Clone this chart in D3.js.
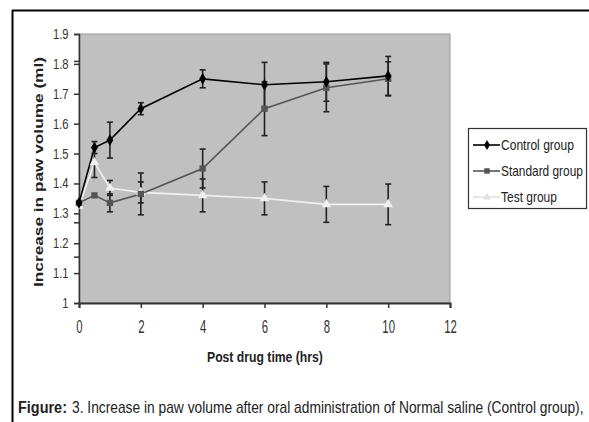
<!DOCTYPE html>
<html><head><meta charset="utf-8">
<script src="https://cdn.jsdelivr.net/npm/d3@7"></script>
<style>
html,body{margin:0;padding:0;background:#fff;}
svg{display:block;}
text{font-family:"Liberation Sans",Arial,sans-serif;}
</style></head>
<body>
<svg id="chart" width="589" height="422"></svg>
<script>
const times = [0, 0.5, 1, 2, 4, 6, 8, 10];
const control = [1.335, 1.52, 1.545, 1.65, 1.75, 1.73, 1.74, 1.76];
const controlErr = [0, 0.02, 0.06, 0.02, 0.03, 0.075, 0.065, 0.065];
const standard = [1.335, 1.36, 1.335, 1.365, 1.45, 1.65, 1.72, 1.75];
const standardErr = [0, 0, 0.03, 0.07, 0.065, 0.09, 0.08, 0.057];
const testGrp = [1.325, 1.47, 1.385, 1.37, 1.36, 1.35, 1.33, 1.33];
const testErr = [0, 0.05, 0.025, 0.035, 0.055, 0.055, 0.06, 0.068];
const seriesNames = ["Control group", "Standard group", "Test group"];
const xTicks = [0, 2, 4, 6, 8, 10, 12];
const yTicks = [1, 1.1, 1.2, 1.3, 1.4, 1.5, 1.6, 1.7, 1.8, 1.9];
const yExtraTicks = [1.81, 1.27, 1.155];
const xLabel = "Post drug time (hrs)";
const yLabel = "Increase in paw volume (ml)";
const captionBold = "Figure:";
const captionRest = "3. Increase in paw volume after oral administration of Normal saline (Control group),";

const svg = d3.select("#chart");
const L = 79, R = 450, T = 34, B = 303;
const x = d3.scaleLinear().domain([0, 12]).range([L, R]);
const y = d3.scaleLinear().domain([1, 1.9]).range([B, T]);
const SXY = 0.8, SXX = 0.65;

// condensed text: horizontally scaled to a target width
function fitText(parent, str, px, py, width, size, bold) {
  const t = parent.append("text").attr("font-size", size).attr("fill", "#222")
    .attr("font-weight", bold ? "bold" : "normal").text(str);
  const natural = t.node().getComputedTextLength();
  t.attr("transform", `translate(${px},${py}) scale(${width / natural},1)`);
  return t;
}

// frame
svg.append("line").attr("x1", 12).attr("x2", 589).attr("y1", 10.5).attr("y2", 10.5).attr("stroke", "#000").attr("stroke-width", 2);
svg.append("line").attr("x1", 12.5).attr("x2", 12.5).attr("y1", 10).attr("y2", 422).attr("stroke", "#000").attr("stroke-width", 2);

// plot area
svg.append("rect").attr("x", L).attr("y", T).attr("width", R - L).attr("height", B - T)
  .attr("fill", "#c0c0c0").attr("stroke", "#9a9a9a").attr("stroke-width", 1);

// axes
const gy = svg.append("g").attr("transform", `translate(${L},0)`)
  .call(d3.axisLeft(y).tickValues(yTicks).tickSize(5).tickFormat(d => d3.format("")(d)));
gy.select(".domain").attr("stroke", "#333").attr("stroke-width", 1.5);
gy.selectAll(".tick line").attr("stroke", "#333").attr("stroke-width", 1.5);
gy.selectAll("text").attr("font-size", 14).attr("fill", "#333")
  .attr("x", -10.5 / SXY).attr("transform", `scale(${SXY},1)`);
const gy2 = svg.append("g").attr("transform", `translate(${L},0)`)
  .call(d3.axisLeft(y).tickValues(yExtraTicks).tickSize(5).tickFormat(""));
gy2.select(".domain").remove();
gy2.selectAll(".tick line").attr("stroke", "#333").attr("stroke-width", 1.5);

const gx = svg.append("g").attr("transform", `translate(0,${B})`)
  .call(d3.axisBottom(x).tickValues(xTicks).tickSize(5).tickPadding(12.6));
gx.select(".domain").attr("stroke", "#333").attr("stroke-width", 2);
gx.selectAll(".tick line").attr("stroke", "#333").attr("stroke-width", 1.5);
gx.selectAll("text").attr("font-size", 17.5).attr("fill", "#333").attr("transform", `scale(${SXX},1)`);

// labels
fitText(svg, xLabel, 207, 362, 116, 14, true);
svg.append("text").attr("transform", "translate(43,287) rotate(-90)")
  .attr("font-size", 13.5).attr("font-weight", "bold").attr("fill", "#222")
  .attr("textLength", 230).attr("lengthAdjust", "spacingAndGlyphs").text(yLabel);

fitText(svg, captionBold, 18, 413, 49, 16, true);
fitText(svg, captionRest, 72, 413, 512, 16, false);

// series
const series = [
  {name: seriesNames[0], vals: control, err: controlErr, color: "#000", legColor: "#000", shape: d3.symbolDiamond, size: 40, legW: 73},
  {name: seriesNames[1], vals: standard, err: standardErr, color: "#555", legColor: "#555", shape: d3.symbolSquare, size: 40, legW: 82},
  {name: seriesNames[2], vals: testGrp, err: testErr, color: "#f0f0f0", legColor: "#e2e2e2", shape: d3.symbolTriangle, size: 40, legW: 56}
];
const line = d3.line().x(d => x(d[0])).y(d => y(d[1]));

series.slice().reverse().forEach(s => {
  const pts = times.map((t, i) => [t, s.vals[i], s.err[i]]);
  svg.append("path").datum(pts).attr("d", line).attr("fill", "none")
    .attr("stroke", s.color).attr("stroke-width", 1.6);
});
series.forEach(s => {
  const pts = times.map((t, i) => [t, s.vals[i], s.err[i]]).filter(p => p[2] > 0);
  const g = svg.append("g").attr("stroke", "#222").attr("stroke-width", 1.6);
  g.selectAll("line.v").data(pts).join("line")
    .attr("x1", d => x(d[0])).attr("x2", d => x(d[0]))
    .attr("y1", d => y(d[1] - d[2])).attr("y2", d => y(d[1] + d[2]));
  g.selectAll("line.t").data(pts).join("line")
    .attr("x1", d => x(d[0]) - 3).attr("x2", d => x(d[0]) + 3)
    .attr("y1", d => y(d[1] + d[2])).attr("y2", d => y(d[1] + d[2]));
  g.selectAll("line.b").data(pts).join("line")
    .attr("x1", d => x(d[0]) - 3).attr("x2", d => x(d[0]) + 3)
    .attr("y1", d => y(d[1] - d[2])).attr("y2", d => y(d[1] - d[2]));
});
series.slice().reverse().forEach(s => {
  svg.append("g").selectAll("path").data(times.map((t, i) => [t, s.vals[i]])).join("path")
    .attr("transform", d => `translate(${x(d[0])},${y(d[1])})`)
    .attr("d", d3.symbol().type(s.shape).size(s.size)).attr("fill", s.color);
});

// legend
const lg = svg.append("g");
lg.append("rect").attr("x", 468.5).attr("y", 128.5).attr("width", 118).attr("height", 80)
  .attr("fill", "#fff").attr("stroke", "#333").attr("stroke-width", 1.2);
const legY = d3.scalePoint().domain(seriesNames).range([145, 197]);
series.forEach(s => {
  const yy = legY(s.name);
  lg.append("line").attr("x1", 473).attr("x2", 500).attr("y1", yy).attr("y2", yy)
    .attr("stroke", s.legColor).attr("stroke-width", 1.6);
  lg.append("path").attr("transform", `translate(487,${yy})`)
    .attr("d", d3.symbol().type(s.shape).size(30)).attr("fill", s.legColor);
  fitText(lg, s.name, 501, yy + 5, s.legW, 14, false);
});
</script>
</body></html>
